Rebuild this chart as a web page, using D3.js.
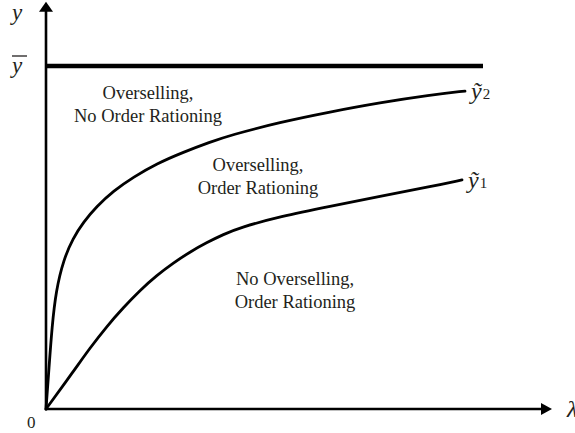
<!DOCTYPE html>
<html>
<head>
<meta charset="utf-8">
<script src="https://cdn.jsdelivr.net/npm/d3@7"></script>
<style>
  html, body { margin: 0; padding: 0; background: #fff; overflow: hidden; }
  svg { display: block; }
</style>
</head>
<body>
<svg id="chart" width="575" height="433"></svg>
<script>
// Threshold curves: x is the demand parameter, y the capacity level (ȳ = 100)
const y2X = [0, 0.6, 1.2, 2.0, 3.5, 5.4, 7.5, 10.1, 13.5, 17.5, 22.1, 27.5, 32.8, 36.8, 46.8, 56.8, 66.8, 76.8, 83.8];
const y2Y = [0, 12.0, 24.0, 34.5, 43.5, 49.8, 54.5, 59.0, 63.6, 67.6, 71.5, 74.9, 77.8, 79.8, 83.6, 86.6, 89.3, 91.5, 92.7];

const y1X = [0, 5.5, 8.8, 12.1, 15.5, 18.8, 22.1, 25.5, 28.8, 32.1, 35.5, 38.8, 46.8, 56.8, 66.8, 76.8, 83.2];
const y1Y = [0, 11.0, 17.8, 24.0, 29.6, 34.6, 38.9, 42.6, 45.8, 48.5, 50.9, 52.9, 56.1, 59.1, 62.0, 64.8, 66.8];

const yBar = 100;          // upper bound ȳ
const yBarEnd = 87.4;      // x where the ȳ line stops
const axisEndX = 101.2;    // x-axis arrow tip
const axisEndY = 118.7;    // y-axis arrow tip

const regionLabels = [
  ["Overselling,", "No Order Rationing"],
  ["Overselling,", "Order Rationing"],
  ["No Overselling,", "Order Rationing"]
];
const regionAnchors = [[20.4, 90.4], [42.4, 69.4], [49.8, 36.2]];

const serif = "'Liberation Serif', 'Times New Roman', Times, 'DejaVu Serif', serif";
const ink = "#000";
const textInk = "#231f20";

const svg = d3.select("#chart")
  .attr("font-family", serif);

const x = d3.scaleLinear().domain([0, 100]).range([46, 546]);
const y = d3.scaleLinear().domain([0, 100]).range([409, 66]);

// axes with arrowheads
svg.append("line")
  .attr("x1", x(0)).attr("y1", y(0))
  .attr("x2", x(axisEndX) - 8).attr("y2", y(0))
  .attr("stroke", ink).attr("stroke-width", 2.6);
svg.append("path")
  .attr("d", `M${x(axisEndX)},${y(0)} L${x(axisEndX) - 11},${y(0) - 6} L${x(axisEndX) - 11},${y(0) + 6} Z`)
  .attr("fill", ink);

svg.append("line")
  .attr("x1", x(0)).attr("y1", y(0) + 1.3)
  .attr("x2", x(0)).attr("y2", y(axisEndY) + 8)
  .attr("stroke", ink).attr("stroke-width", 2.6);
svg.append("path")
  .attr("d", `M${x(0)},${y(axisEndY)} L${x(0) - 7},${y(axisEndY) + 10} L${x(0) + 7},${y(axisEndY) + 10} Z`)
  .attr("fill", ink);

// upper bound ȳ
svg.append("line")
  .attr("x1", x(0)).attr("y1", y(yBar))
  .attr("x2", x(yBarEnd)).attr("y2", y(yBar))
  .attr("stroke", ink).attr("stroke-width", 4.5);

// threshold curves
const line = d3.line()
  .x(d => x(d[0]))
  .y(d => y(d[1]))
  .curve(d3.curveBasis);

const curve2 = d3.zip(y2X, y2Y);
const curve1 = d3.zip(y1X, y1Y);

[curve2, curve1].forEach(c => {
  svg.append("path")
    .attr("d", line(c))
    .attr("fill", "none")
    .attr("stroke", ink)
    .attr("stroke-width", 2.8)
    .attr("stroke-linecap", "round")
    .attr("stroke-linejoin", "round");
});

// region labels
regionLabels.forEach((lines, i) => {
  const [ax, ay] = regionAnchors[i];
  const t = svg.append("text")
    .attr("text-anchor", "middle")
    .attr("font-size", 18.5)
    .attr("fill", textInk);
  lines.forEach((s, k) => {
    t.append("tspan")
      .attr("x", x(ax))
      .attr("y", y(ay) + k * 23)
      .text(s);
  });
});

// axis labels
svg.append("text")
  .attr("x", 12).attr("y", 20)
  .attr("font-size", 23).attr("font-style", "italic")
  .attr("fill", textInk)
  .text("y");

svg.append("text")
  .attr("x", 12).attr("y", y(yBar) + 7)
  .attr("font-size", 23).attr("font-style", "italic")
  .attr("fill", textInk)
  .text("y");
svg.append("line")
  .attr("x1", 12).attr("x2", 27)
  .attr("y1", y(yBar) - 10).attr("y2", y(yBar) - 10)
  .attr("stroke", textInk).attr("stroke-width", 1.3);

svg.append("text")
  .attr("x", 27).attr("y", 428)
  .attr("font-size", 17)
  .attr("fill", textInk)
  .text("0");

svg.append("text")
  .attr("x", 567).attr("y", 417)
  .attr("font-size", 24).attr("font-style", "italic")
  .attr("fill", textInk)
  .text("λ");

// curve labels ỹ₂ and ỹ₁
[[curve2, "2"], [curve1, "1"]].forEach(([c, sub]) => {
  const last = c[c.length - 1];
  const t = svg.append("text")
    .attr("x", x(last[0]) + 6)
    .attr("y", y(last[1]) + 8)
    .attr("fill", textInk);
  t.append("tspan")
    .attr("font-size", 24).attr("font-style", "italic")
    .text("ỹ");
  t.append("tspan")
    .attr("font-size", 15)
    .attr("dx", 1)
    .text(sub);
});
</script>
</body>
</html>
